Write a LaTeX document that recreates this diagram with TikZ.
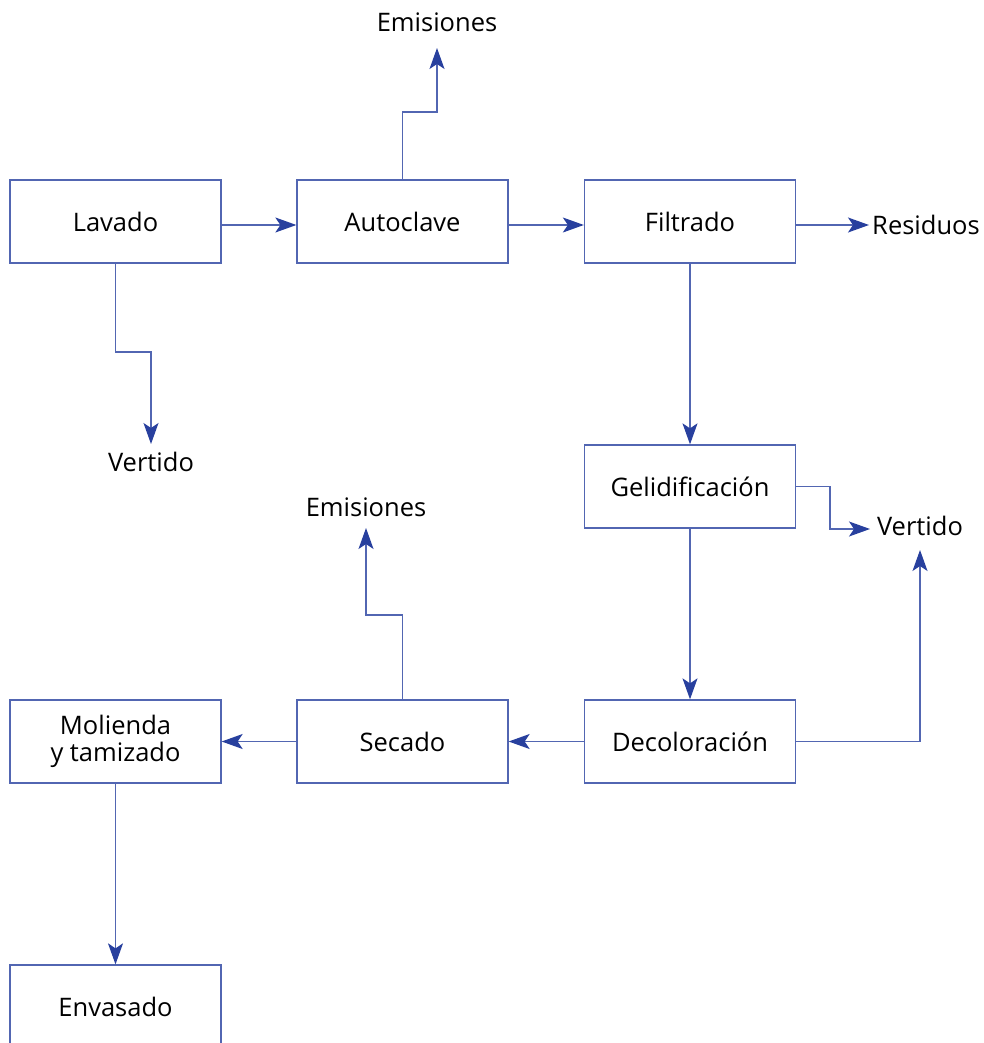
\documentclass[tikz,border=0pt]{standalone}
\usepackage{fontspec}
\setmainfont{Open Sans}
\usetikzlibrary{arrows.meta}
\definecolor{linec}{RGB}{82,102,178}
\definecolor{headc}{RGB}{40,64,158}
\tikzset{
  box/.style={draw=linec, line width=1.3pt, minimum width=211pt, minimum height=83pt,
    inner sep=0pt, align=center, font=\fontsize{25.5}{27}\selectfont},
  lbl/.style={inner sep=0pt, font=\fontsize{25.5}{27}\selectfont},
  flow/.style={draw=linec, line width=1.3pt,
    -{Stealth[length=21pt, width=15pt, inset=5pt, color=headc]}},
  plain/.style={draw=linec, line width=1.3pt}
}
\begin{document}
\begin{tikzpicture}[x=1pt, y=-1pt]
\useasboundingbox (0,0) rectangle (983,1043);

% process boxes
\node[box] (lav) at (115.5,221.5) {Lavado};
\node[box] (aut) at (402.5,221.5) {Autoclave};
\node[box] (fil) at (690,221.5) {Filtrado};
\node[box] (gel) at (690,486.5) {Gelidificación};
\node[box] (dec) at (690,741.5) {Decoloración};
\node[box] (sec) at (402.5,741.5) {Secado};
\node[box] (mol) at (115.5,741.5) {Molienda\\y tamizado};
\begin{scope}
  \clip (0,0) rectangle (983,1043);
  \node[box] (env) at (115.5,1006.5) {Envasado};
\end{scope}

% outputs
\node[lbl] (em1) at (437,22) {Emisiones};
\node[lbl] (ver1) at (151,462) {Vertido};
\node[lbl] (res) at (926,225) {Residuos};
\node[lbl] (ver2) at (920,526) {Vertido};
\node[lbl] (em2) at (366,507) {Emisiones};

\coordinate (em1tip) at (437,48);
\coordinate (ver1tip) at (151,444);
\coordinate (restip) at (869,225);
\coordinate (ver2tip) at (870,529);
\coordinate (ver2tipb) at (920,550);
\coordinate (em2tip) at (366,528);

% main line
\draw[flow] ([yshift=-3.5pt]lav.east) -- ([yshift=-3.5pt]aut.west);
\draw[flow] ([yshift=-3.5pt]aut.east) -- ([yshift=-3.5pt]fil.west);
\draw[flow] ([yshift=-3.5pt]fil.east) -- (restip);
\draw[flow] (fil.south) -- (gel.north);
\draw[flow] (gel.south) -- (dec.north);
\draw[flow] (dec.west) -- (sec.east);
\draw[flow] (sec.west) -- (mol.east);
\draw[flow] (mol.south) -- (env.north);

% side streams
\draw[flow] (aut.north) -- (402.5,112) -| (em1tip);
\draw[flow] (lav.south) -- (115.5,352) -| (ver1tip);
\draw[flow] (gel.east) -- (830,486.5) |- (ver2tip);
\draw[flow] (dec.east) -| (ver2tipb);
\draw[flow] (sec.north) -- (402.5,615) -| (em2tip);
\end{tikzpicture}
\end{document}
